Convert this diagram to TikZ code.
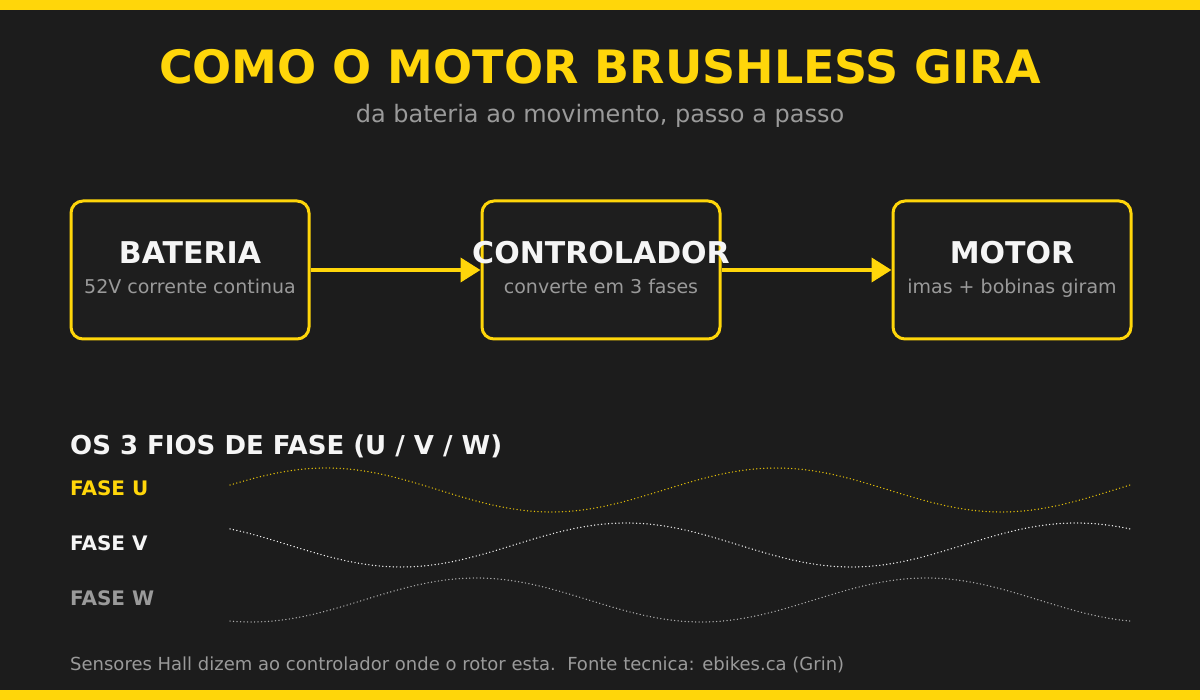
\documentclass[tikz,border=0pt]{standalone}
\usepackage{fontspec}
\setmainfont{DejaVu Sans}
\usetikzlibrary{arrows.meta, positioning}
\definecolor{bgdark}{HTML}{1C1C1C}
\definecolor{boxfill}{HTML}{1E1E1E}
\definecolor{amarelo}{HTML}{FFD60A}
\definecolor{cinza}{HTML}{9A9A9A}
\definecolor{branco}{HTML}{F5F5F5}
\begin{document}
\begin{tikzpicture}[x=1pt, y=-1pt,
    etapa/.style={draw=amarelo, line width=3pt, rounded corners=12pt, fill=boxfill,
      minimum width=238pt, minimum height=138pt, inner sep=0pt},
    etapatitulo/.style={anchor=base, text=branco, font=\fontsize{30}{32}\selectfont\bfseries, inner sep=0pt},
    etapasub/.style={anchor=base, text=cinza, font=\fontsize{19}{21}\selectfont, inner sep=0pt},
    fluxo/.style={draw=amarelo, line width=4pt, -{Triangle[length=20pt, width=24pt]}},
    fase/.style={anchor=base west, font=\fontsize{20}{22}\selectfont\bfseries, inner sep=0pt},
    onda/.style={line width=1.4pt, dash pattern=on 0.1pt off 3.4pt, line cap=round}]
    \useasboundingbox (0,0) rectangle (1200,700);
    \fill[bgdark] (0,0) rectangle (1200,700);
    \fill[amarelo] (0,0) rectangle (1200,10);
    \fill[amarelo] (0,690) rectangle (1200,700);

    % titulo
    \node[anchor=base, text=amarelo, font=\fontsize{46}{50}\selectfont\bfseries] (titulo) at (600,84) {COMO O MOTOR BRUSHLESS GIRA};
    \node[anchor=base, text=cinza, font=\fontsize{24}{26}\selectfont] (subtitulo) at (600,123) {da bateria ao movimento, passo a passo};

    % etapas
    \node[etapa] (bateria) at (190,270) {};
    \node[etapa, right=170pt of bateria] (controlador) {};
    \node[etapa, right=170pt of controlador] (motor) {};

    \node[etapatitulo] at ([yshift=6pt]bateria.center) {BATERIA};
    \node[etapasub] at ([yshift=-24pt]bateria.center) {52V corrente continua};
    \node[etapatitulo] at ([yshift=6pt]controlador.center) {CONTROLADOR};
    \node[etapasub] at ([yshift=-24pt]controlador.center) {converte em 3 fases};
    \node[etapatitulo] at ([yshift=6pt]motor.center) {MOTOR};
    \node[etapasub] at ([yshift=-24pt]motor.center) {imas + bobinas giram};

    \draw[fluxo] (bateria.east) -- (controlador.west);
    \draw[fluxo] (controlador.east) -- (motor.west);

    % fases
    \node[anchor=base west, text=branco, font=\fontsize{26}{28}\selectfont\bfseries, inner sep=0pt] (fios) at (70,455) {OS 3 FIOS DE FASE (U / V / W)};
    \node[fase, text=amarelo] (faseU) at (70,495) {FASE U};
    \node[fase, text=branco] (faseV) at (70,550) {FASE V};
    \node[fase, text=cinza] (faseW) at (70,605) {FASE W};

    \draw[onda, amarelo!90!black] plot[domain=230:1130, samples=181, smooth] (\x, {490-22*sin((\x-230)*0.8+13)});
    \draw[onda, branco] plot[domain=230:1130, samples=181, smooth] (\x, {545-22*sin((\x-230)*0.8+133)});
    \draw[onda, cinza!80!white] plot[domain=230:1130, samples=181, smooth] (\x, {600-22*sin((\x-230)*0.8+253)});

    % rodape
    \node[anchor=base west, text=cinza, font=\fontsize{18}{20}\selectfont, inner sep=0pt] (rodape) at (70,670) {Sensores Hall dizem ao controlador onde o rotor esta.\ \ Fonte tecnica: ebikes.ca (Grin)};
\end{tikzpicture}
\end{document}
